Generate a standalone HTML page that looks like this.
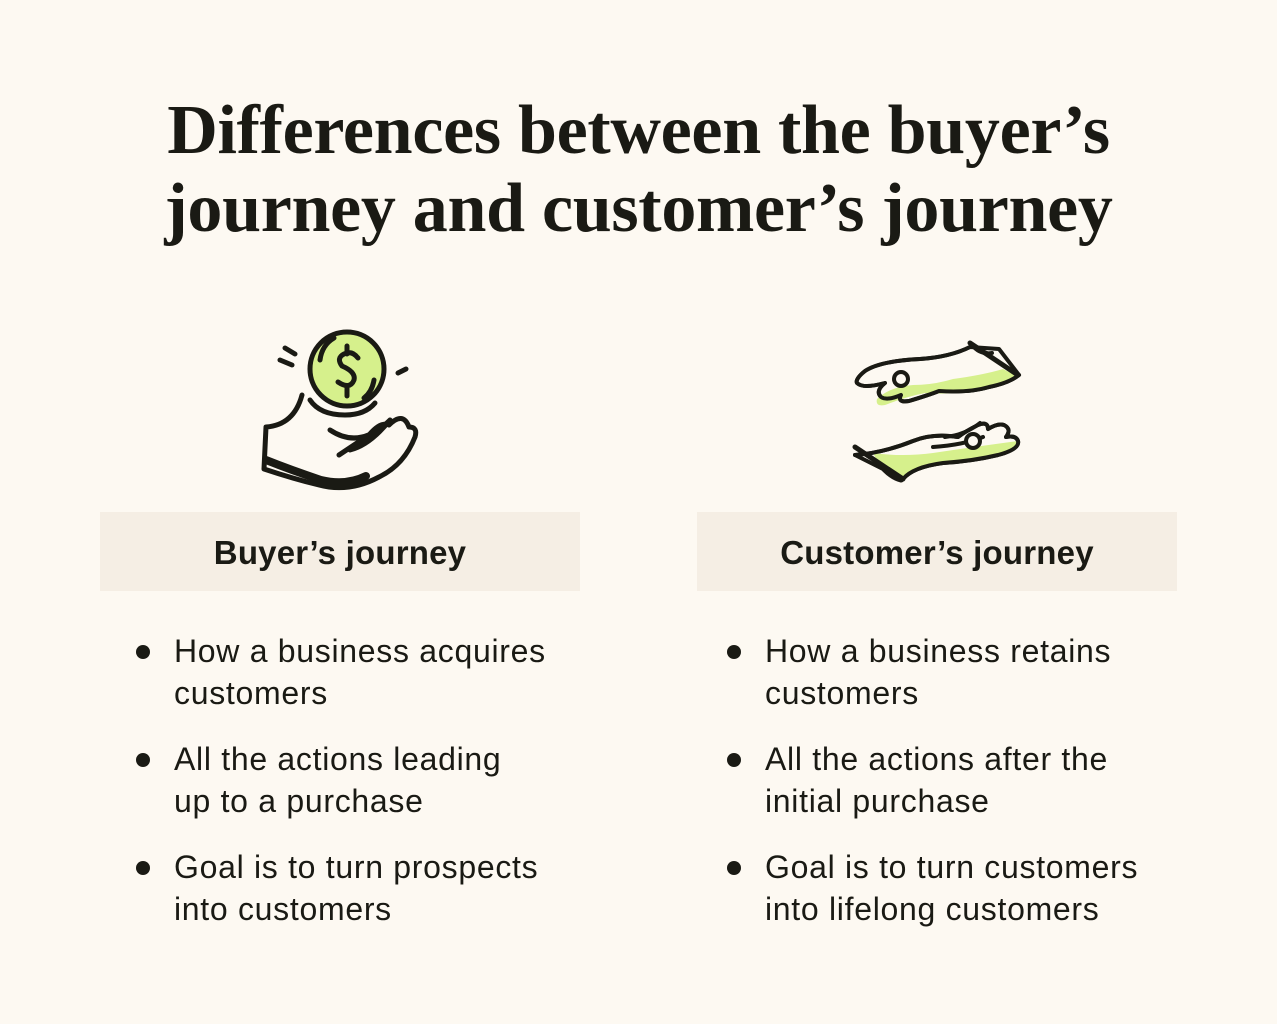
<!DOCTYPE html>
<html><head><style>
body{margin:0;width:1277px;height:1024px;background:#fdf9f2;position:relative;overflow:hidden;font-family:"Liberation Sans",sans-serif;color:#1a1a14}
h1{position:absolute;top:92px;left:0;width:1277px;text-align:center;margin:0;font-family:"Liberation Serif",serif;font-weight:bold;font-size:70px;line-height:78px;letter-spacing:-0.3px}
.box{position:absolute;top:512px;width:480px;height:79px;background:#f5eee4;text-align:center;line-height:82px;font-weight:bold;font-size:33px;letter-spacing:0.2px}
ul{position:absolute;top:630px;margin:0;padding:0;list-style:none;font-size:32px;line-height:42px;letter-spacing:0.7px}
li{position:relative;padding-left:38px;margin-bottom:24px}
li:before{content:"";position:absolute;left:0;top:15px;width:14px;height:14px;border-radius:50%;background:#1a1a14}
</style></head><body>
<h1>Differences between the buyer’s<br>journey and customer’s journey</h1>
<svg style="position:absolute;left:250px;top:320px" width="180" height="180" viewBox="0 0 180 180" fill="none" stroke="#1a1a14" stroke-width="5" stroke-linecap="round" stroke-linejoin="round">
<path d="M35 28l10 6M30 40l12 5M148 53l8-4"/>
<path d="M52 75q-8 30-36 32l-2 42q30 10 55 16q30 8 60-8q25-12 36-40q3-10-6-10q-6-16-20-2q-8-4-20 10l-30 20" fill="#fdf9f2"/>
<path d="M16 140q25 10 55 20q25 6 45-4" stroke-width="8"/>
<path d="M80 110q30 20 60-10M100 130q20-5 40-30"/>
<circle cx="97" cy="49" r="37" fill="#d6f08c"/>
<path d="M70 40q2-15 14-22M124 60q-2 12-10 18"/>
<path d="M108 38q-6-8-14-4q-8 4-2 12q14 6 12 14q-4 10-16 2M97 26v8M97 68v8"/>
<path d="M60 80q10 15 35 15q20 0 30-12"/>
</svg>
<svg style="position:absolute;left:845px;top:335px" width="180" height="155" viewBox="0 0 180 155" fill="none" stroke="#1a1a14" stroke-width="4" stroke-linecap="round" stroke-linejoin="round">
<path d="M125 12q-20 10-50 12q-40 2-55 12q-10 8-8 12q6 6 28 0q-10 8-4 14q6 4 20-2q-4 8 8 6q20-6 30-10q30 2 50-4q20-4 30-12l-20-26z" fill="#fdf9f2"/>
<path d="M170 40q-10 10-40 16q-30 4-50 2q-20 4-40 12q-10 2-8-6q12-12 36-14q20 0 40-6q30-4 50-10z" fill="#d6f08c" stroke="none"/>
<path d="M125 12q-20 10-50 12q-40 2-55 12q-10 8-8 12q6 6 28 0q-10 8-4 14q6 4 20-2q-4 8 8 6q20-6 30-10q30 2 50-4q20-4 30-12"/>
<path d="M125 8l48 32" stroke-width="5"/>
<path d="M127 10q8 10 20 8" fill="#1a1a14"/>
<circle cx="56" cy="44" r="7" fill="#fdf9f2"/>
<path d="M58 144q10-12 40-16q30-2 55-8q22-6 20-14q-2-6-12-4q6-8-2-12q-6-2-16 4q0-8-10-4q-12 6-20 12q-25-4-45 4q-30 12-58 14z" fill="#fdf9f2"/>
<path d="M28 118q30 4 60 0q40-6 85-12q2 10-20 14q-30 6-55 8q-30 4-40 14q-20-4-30-24z" fill="#d6f08c" stroke="none"/>
<path d="M58 144q10-12 40-16q30-2 55-8q22-6 20-14q-2-6-12-4q6-8-2-12q-6-2-16 4q0-8-10-4q-12 6-20 12q-25-4-45 4q-30 12-58 14"/>
<path d="M88 112q30-2 50-10M100 102q20-2 35-14"/>
<path d="M10 112l48 32" stroke-width="5"/>
<path d="M40 134q8 8 16 10" stroke-width="7"/>
<circle cx="128" cy="106" r="7" fill="#fdf9f2"/>
</svg>
<div class="box" style="left:100px">Buyer’s journey</div>
<div class="box" style="left:697px">Customer’s journey</div>
<ul style="left:136px">
<li>How a business acquires<br>customers</li>
<li>All the actions leading<br>up to a purchase</li>
<li>Goal is to turn prospects<br>into customers</li>
</ul>
<ul style="left:727px">
<li>How a business retains<br>customers</li>
<li>All the actions after the<br>initial purchase</li>
<li>Goal is to turn customers<br>into lifelong customers</li>
</ul>
</body></html>
